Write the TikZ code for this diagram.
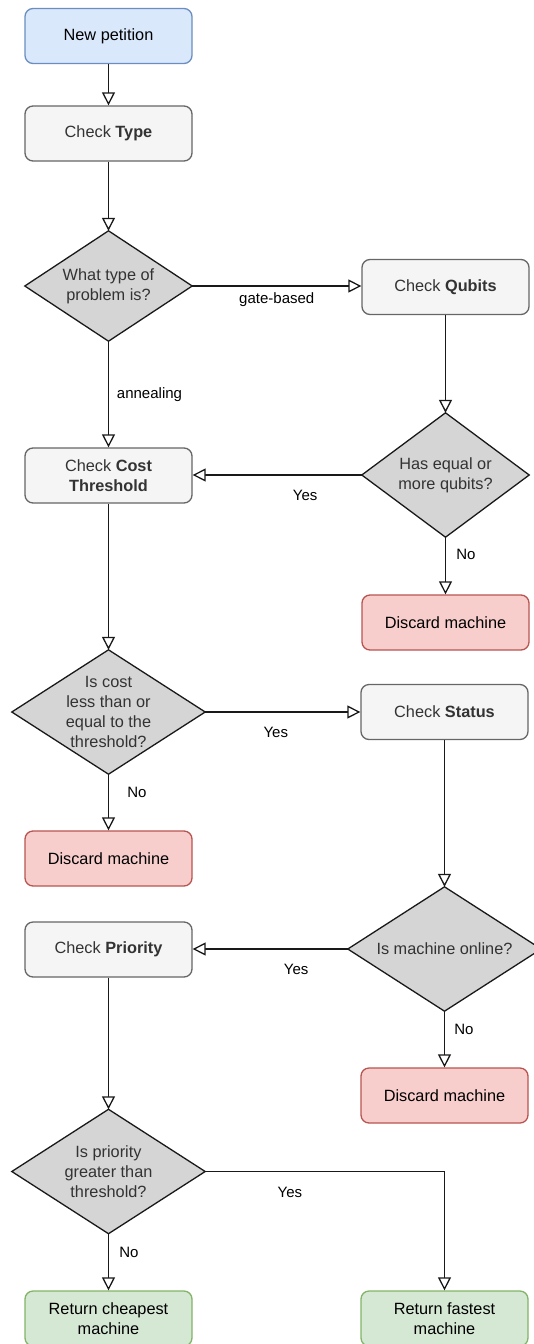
\documentclass[tikz,border=0pt]{standalone}
\usepackage{fontspec}
\setmainfont{Liberation Sans}
\usetikzlibrary{arrows.meta,backgrounds}

\definecolor{bluefill}{HTML}{DAE8FC}
\definecolor{bluestroke}{HTML}{6C8EBF}
\definecolor{grayfill}{HTML}{F5F5F5}
\definecolor{graystroke}{HTML}{666666}
\definecolor{graytext}{HTML}{333333}
\definecolor{decfill}{HTML}{D5D5D5}
\definecolor{redfill}{HTML}{F8CECC}
\definecolor{redstroke}{HTML}{B85450}
\definecolor{greenfill}{HTML}{D5E8D4}
\definecolor{greenstroke}{HTML}{82B366}

\newcommand\boxfont{\fontsize{16.3}{19.7}\selectfont}
\newcommand\edgefont{\fontsize{15}{18}\selectfont}

\begin{document}
\begin{tikzpicture}[x=1pt,y=-1pt,
  box/.style={rounded corners=8pt, line width=1.3pt, minimum width=167pt,
    minimum height=55pt, inner sep=0pt, align=center, font=\boxfont},
  startbox/.style={box, draw=bluestroke, fill=bluefill, text=black},
  checkbox/.style={box, draw=graystroke, fill=grayfill, text=graytext},
  discardbox/.style={box, draw=redstroke, fill=redfill, text=black},
  resultbox/.style={box, draw=greenstroke, fill=greenfill, text=black},
  decision/.style 2 args={minimum width=#1, minimum height=#2, inner sep=0pt,
    align=center, font=\boxfont, text=graytext},
  diamondline/.style={draw=black!90, fill=decfill, line width=1.3pt},
  flow/.style={draw=black!90, line width=1.3pt,
    -{Triangle[open, length=13pt, width=13pt, fill=white]}},
  lbl/.style={font=\edgefont, text=black, inner sep=0pt}]

\useasboundingbox (0,0) rectangle (533,1344);

% left column
\node[startbox]  (np)  at (108.5,36)    {New petition};
\node[checkbox]  (ct)  at (108.5,133.5) {Check \textbf{Type}};
\node[decision={167pt}{110pt}] (d1) at (108.5,286) {What type of\\problem is?};
\node[checkbox]  (cc)  at (108.5,475.5) {Check \textbf{Cost}\\\textbf{Threshold}};
\node[decision={193pt}{124pt}] (d3) at (108.5,712) {Is cost\\less than or\\equal to the\\threshold?};
\node[discardbox] (dm2) at (108.5,858.5) {Discard machine};
\node[checkbox]  (cp)  at (108.5,949.5) {Check \textbf{Priority}};
\node[decision={193pt}{124pt}] (d5) at (108.5,1171.5) {Is priority\\greater than\\threshold?};
\node[resultbox] (rc)  at (108.5,1318.5) {Return cheapest\\machine};

% right column
\node[checkbox]  (cq)  at (445.5,287) {Check \textbf{Qubits}};
\node[decision={167pt}{124pt}] (d2) at (445.5,475) {Has equal or\\more qubits?};
\node[discardbox] (dm1) at (445.5,622.5) {Discard machine};
\node[checkbox]  (cs)  at (444.5,712) {Check \textbf{Status}};
\node[decision={193pt}{124pt}] (d4) at (444.5,949) {Is machine online?};
\node[discardbox] (dm3) at (444.5,1095.5) {Discard machine};
\node[resultbox] (rf)  at (444.5,1318.5) {Return fastest\\machine};

% decision diamonds behind their labels
\begin{scope}[on background layer]
  \foreach \d in {d1,d2,d3,d4,d5}
    \draw[diamondline] (\d.north) -- (\d.east) -- (\d.south) -- (\d.west) -- cycle;
\end{scope}

% connectors
\draw[flow] (np) -- (ct);
\draw[flow] (ct) -- (d1.north);
\draw[flow] (d1.east) -- node[lbl, yshift=-14pt] {gate-based} (cq.west |- d1.east);
\draw[flow] (d1.south) -- node[lbl, xshift=41pt] {annealing} (cc.north);
\draw[flow] (cq.south) -- (d2.north);
\draw[flow] (d2.west) -- node[lbl, xshift=28pt, yshift=-20pt] {Yes} (cc.east |- d2.west);
\draw[flow] (d2.south) -- node[lbl, xshift=20.5pt, yshift=11pt] {No} (dm1.north);
\draw[flow] (cc.south) -- (d3.north);
\draw[flow] (d3.east) -- node[lbl, xshift=-7pt, yshift=-20pt] {Yes} (cs.west |- d3.east);
\draw[flow] (d3.south) -- node[lbl, xshift=28.5pt, yshift=10pt] {No} (dm2.north);
\draw[flow] (cs.south) -- (d4.north);
\draw[flow] (d4.west) -- node[lbl, xshift=26pt, yshift=-20pt] {Yes} (cp.east |- d4.west);
\draw[flow] (d4.south) -- node[lbl, xshift=19.5pt, yshift=10pt] {No} (dm3.north);
\draw[flow] (cp.south) -- (d5.north);
\draw[flow] (d5.east) -| node[lbl, pos=0.25, xshift=-35pt, yshift=-20.5pt] {Yes} (rf.north);
\draw[flow] (d5.south) -- node[lbl, xshift=20.5pt, yshift=10pt] {No} (rc.north);

\end{tikzpicture}
\end{document}
